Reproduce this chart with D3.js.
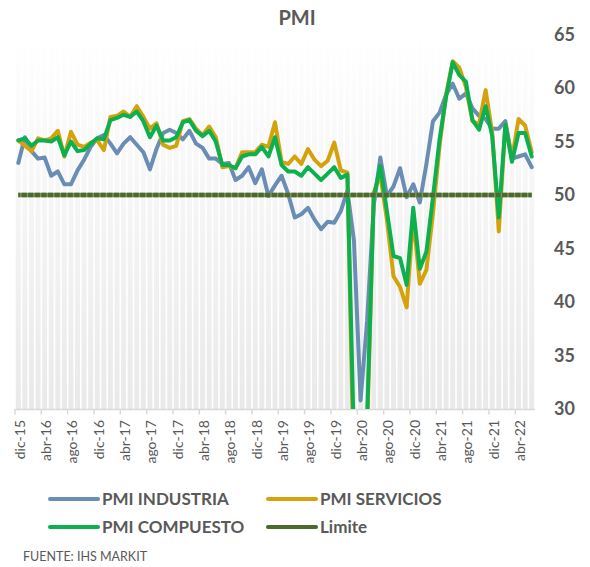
<!DOCTYPE html>
<html><head><meta charset="utf-8">
<script src="https://cdn.jsdelivr.net/npm/d3@7"></script>
<style>
body{margin:0;background:#fff}
text{font-family:Lato,"Open Sans",sans-serif}
</style></head>
<body><svg id="c" width="590" height="567"></svg>
<script>
const months = ["dic-15",
"ene-16","feb-16","mar-16","abr-16","may-16","jun-16","jul-16","ago-16","sep-16","oct-16","nov-16","dic-16",
"ene-17","feb-17","mar-17","abr-17","may-17","jun-17","jul-17","ago-17","sep-17","oct-17","nov-17","dic-17",
"ene-18","feb-18","mar-18","abr-18","may-18","jun-18","jul-18","ago-18","sep-18","oct-18","nov-18","dic-18",
"ene-19","feb-19","mar-19","abr-19","may-19","jun-19","jul-19","ago-19","sep-19","oct-19","nov-19","dic-19",
"ene-20","feb-20","mar-20","abr-20","may-20","jun-20","jul-20","ago-20","sep-20","oct-20","nov-20","dic-20",
"ene-21","feb-21","mar-21","abr-21","may-21","jun-21","jul-21","ago-21","sep-21","oct-21","nov-21","dic-21",
"ene-22","feb-22","mar-22","abr-22","may-22","jun-22"];

const tickLabels = ["dic-15","abr-16","ago-16","dic-16","abr-17","ago-17","dic-17","abr-18","ago-18","dic-18",
"abr-19","ago-19","dic-19","abr-20","ago-20","dic-20","abr-21","ago-21","dic-21","abr-22"];

const yTicks = [30,35,40,45,50,55,60,65];

const industria = [53.0,
55.4,54.1,53.4,53.5,51.8,52.2,51.0,51.0,52.3,53.3,54.5,55.3,
55.6,54.8,53.9,54.8,55.4,54.7,54.0,52.4,54.3,55.8,56.1,55.8,
55.2,56.0,54.8,54.4,53.4,53.4,52.9,53.0,51.4,51.8,52.6,51.1,
52.4,49.9,50.9,51.8,50.1,47.9,48.2,48.8,47.7,46.8,47.5,47.4,
48.5,50.4,45.7,30.8,38.3,49.0,53.5,49.9,50.8,52.5,49.8,51.0,
49.3,52.9,56.9,57.7,59.4,60.4,59.0,59.5,58.1,57.4,57.1,56.2,
56.2,56.9,53.4,53.6,53.8,52.6];

const servicios = [55.1,
54.6,54.1,55.3,55.1,55.3,56.0,53.6,55.9,54.7,54.5,54.9,55.1,
54.2,57.3,57.4,57.8,57.3,58.3,57.3,56.2,56.7,54.7,54.4,54.6,
56.9,57.1,56.2,55.6,56.4,55.4,52.6,52.7,52.5,54.0,54.0,54.0,
54.7,54.5,56.8,53.1,52.9,53.6,52.9,54.3,53.3,52.7,53.2,54.9,
52.3,52.1,23.0,7.1,27.9,50.2,51.9,47.7,42.4,41.4,39.5,48.0,
41.7,43.0,48.3,54.6,59.4,62.5,61.9,60.1,56.9,56.6,59.8,55.8,
46.6,56.6,53.4,57.1,56.5,54.0];

const compuesto = [55.1,
55.3,54.6,55.1,55.1,55.0,55.4,53.7,55.0,54.1,54.2,54.8,55.3,
55.2,57.0,57.2,57.5,57.3,57.8,56.9,55.4,56.5,55.1,55.1,55.4,
56.8,57.0,56.0,55.5,56.0,55.0,52.8,52.8,52.5,53.6,53.8,53.8,
54.5,53.6,55.4,52.8,52.2,52.2,51.8,52.6,52.0,51.4,52.0,52.6,
51.6,51.9,26.7,9.2,29.2,49.8,52.7,48.5,44.3,44.1,41.6,48.8,
43.1,44.7,49.8,55.2,59.2,62.4,61.2,60.6,57.0,56.1,58.3,55.5,
47.9,56.6,53.1,55.8,55.8,53.6];

const limiteValor = 50;
const limite = months.map(() => limiteValor);

const seriesNames = ["PMI INDUSTRIA","PMI SERVICIOS","PMI COMPUESTO","Limite"];
const colors = {"PMI INDUSTRIA":"#6a8db4","PMI SERVICIOS":"#d6a20c","PMI COMPUESTO":"#0db04f","Limite":"#4b6a2c"};

const svg = d3.select("#c");
const x = d3.scaleBand().domain(d3.range(months.length)).range([15,535]).padding(0);
const y = d3.scaleLinear().domain([30,65]).range([409,34.5]);
const cx = i => x(i) + x.bandwidth()/2;
const bw = x.bandwidth();

const defs = svg.append("defs");
const g1 = defs.append("linearGradient").attr("id","colg").attr("x1",0).attr("y1",0).attr("x2",0).attr("y2",1);
g1.append("stop").attr("offset","0%").attr("stop-color","#ffffff");
g1.append("stop").attr("offset","100%").attr("stop-color","#e9e9e9");
defs.append("clipPath").attr("id","plot").append("rect")
  .attr("x",15).attr("y",y(65)).attr("width",520).attr("height",y(30)-y(65));

// background columns
svg.append("g").selectAll("rect").data(months).join("rect")
  .attr("x",(d,i)=>x(i)+0.8).attr("width",bw-1.6)
  .attr("y",y(65)).attr("height",y(30)-y(65))
  .attr("fill","url(#colg)");

// x axis line
svg.append("line").attr("x1",15).attr("x2",535).attr("y1",y(30)+0.5).attr("y2",y(30)+0.5)
  .attr("stroke","#d9d9d9").attr("stroke-width",1.5);

const tickIdx = tickLabels.map(t => months.indexOf(t));
svg.append("g").selectAll("line").data(tickIdx).join("line")
  .attr("x1",i=>x(i)).attr("x2",i=>x(i)).attr("y1",y(30)).attr("y2",y(30)+5.5)
  .attr("stroke","#d9d9d9").attr("stroke-width",1.5);

svg.append("g").selectAll("text").data(tickIdx).join("text")
  .attr("transform",i=>`translate(${cx(i)+1.5},${y(30)+11}) rotate(-90)`)
  .attr("text-anchor","end").attr("dy","0.35em")
  .attr("font-size",14).attr("fill","#595959")
  .text(i=>months[i]);

// y axis (right)
const yAx = svg.append("g").attr("transform","translate(554,0)")
  .call(d3.axisRight(y).tickValues(yTicks).tickSize(0).tickPadding(0));
yAx.select(".domain").remove();
yAx.selectAll("text").attr("font-size",18).attr("font-weight","bold").attr("fill","#595959")
  .attr("font-family","Lato, 'Open Sans', sans-serif");

// lines
const line = d3.line().x((d,i)=>cx(i)).y(d=>y(d));
const plot = svg.append("g").attr("clip-path","url(#plot)");
[["PMI INDUSTRIA",industria],["PMI SERVICIOS",servicios],["PMI COMPUESTO",compuesto]].forEach(([n,v])=>{
  plot.append("path").datum(v).attr("d",line).attr("fill","none")
    .attr("stroke",colors[n]).attr("stroke-width",4).attr("stroke-linejoin","round").attr("stroke-linecap","round");
});
plot.append("path").datum(limite).attr("d",line).attr("fill","none")
  .attr("stroke","#7f9366").attr("stroke-width",4.5);
plot.append("path").datum(limite).attr("d",line).attr("fill","none")
  .attr("stroke",colors["Limite"]).attr("stroke-width",4.5)
  .attr("stroke-dasharray",`${bw-1.4},1.4`).attr("stroke-dashoffset",(bw-1.4)/2 + 0.7 - 0);

// title
svg.append("text").attr("x",297).attr("y",25).attr("text-anchor","middle")
  .attr("font-size",20).attr("font-weight","bold").attr("fill","#595959").text("PMI");

// legend
const leg = [
  {n:"PMI INDUSTRIA",x:50,y:499},
  {n:"PMI SERVICIOS",x:268,y:499},
  {n:"PMI COMPUESTO",x:50,y:527},
  {n:"Limite",x:268,y:527}];
const lg = svg.append("g").selectAll("g").data(leg).join("g");
lg.append("line").attr("x1",d=>d.x).attr("x2",d=>d.x+48).attr("y1",d=>d.y).attr("y2",d=>d.y)
  .attr("stroke",d=>colors[d.n]).attr("stroke-width",4).attr("stroke-linecap","round");
lg.append("text").attr("x",d=>d.x+52).attr("y",d=>d.y).attr("dy","0.36em")
  .attr("font-size",17).attr("font-weight","bold").attr("fill","#595959").text(d=>d.n);

svg.append("text").attr("x",23).attr("y",561).attr("font-size",12.5).attr("fill","#595959")
  .text("FUENTE: IHS MARKIT");
</script></body></html>
